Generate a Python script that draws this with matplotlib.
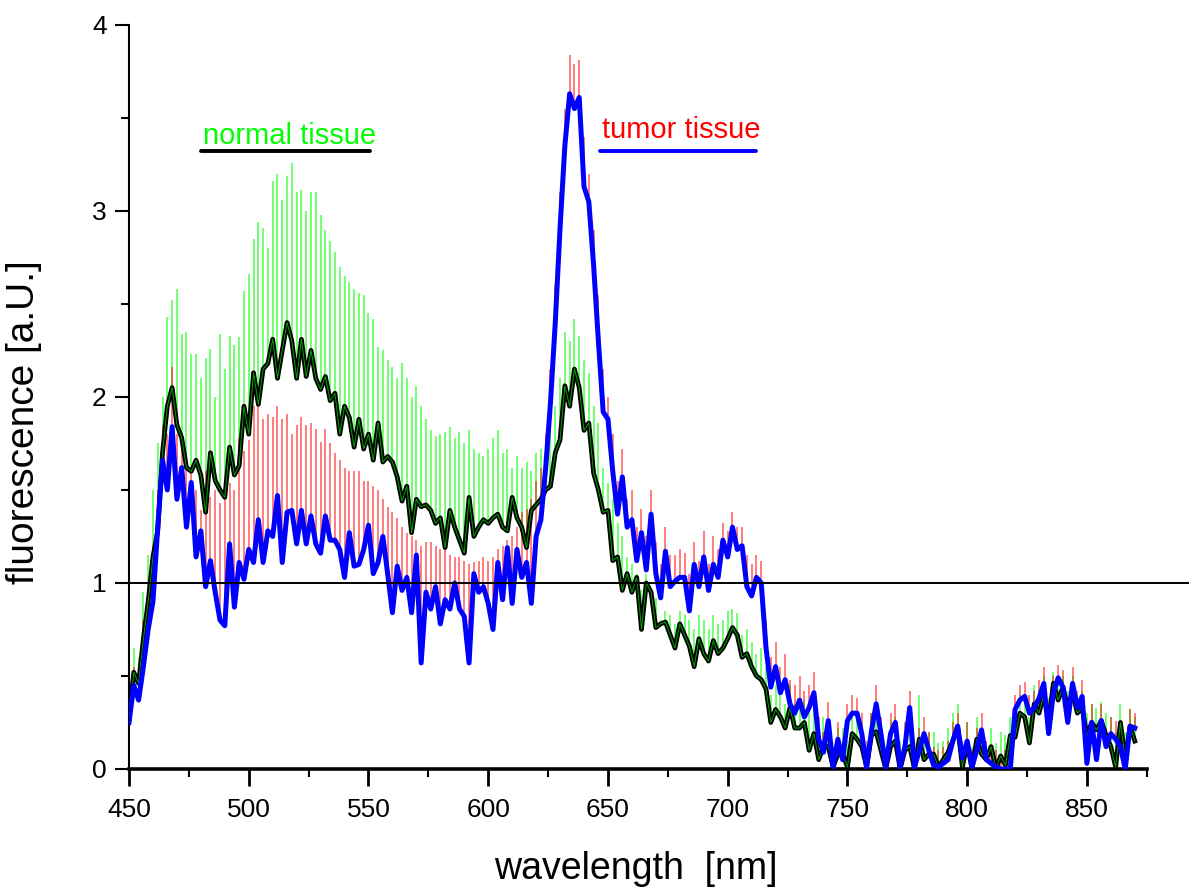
import numpy as np
import matplotlib
matplotlib.use("Agg")
import matplotlib.pyplot as plt
from matplotlib.ticker import MultipleLocator

plt.rcParams['font.family'] = ['Liberation Sans', 'DejaVu Sans']

# wavelength grid, 2 nm steps from 450 to 870 nm
wl = np.arange(450, 871, 2)

# normal tissue, smoothed (black)
normal_smooth = [
    0.27, 0.52, 0.46, 0.70, 0.90, 1.14, 1.28, 1.70, 1.95, 2.05,  # 450-468
    1.85, 1.78, 1.62, 1.60, 1.66, 1.58, 1.38, 1.70, 1.55, 1.50,  # 470-488
    1.46, 1.73, 1.58, 1.63, 1.95, 1.80, 2.13, 1.96, 2.15, 2.18,  # 490-508
    2.31, 2.10, 2.25, 2.40, 2.30, 2.10, 2.31, 2.11, 2.25, 2.10,  # 510-528
    2.04, 2.11, 1.98, 2.02, 1.80, 1.95, 1.89, 1.73, 1.88, 1.72,  # 530-548
    1.80, 1.66, 1.86, 1.65, 1.68, 1.65, 1.57, 1.44, 1.52, 1.27,  # 550-568
    1.45, 1.41, 1.42, 1.39, 1.32, 1.35, 1.19, 1.39, 1.30, 1.23,  # 570-588
    1.16, 1.46, 1.25, 1.30, 1.34, 1.32, 1.35, 1.37, 1.30, 1.28,  # 590-608
    1.46, 1.35, 1.30, 1.19, 1.39, 1.42, 1.45, 1.50, 1.52, 1.70,  # 610-628
    1.77, 2.06, 1.95, 2.15, 2.05, 1.82, 1.86, 1.59, 1.50, 1.38,  # 630-648
    1.39, 1.12, 1.14, 0.96, 1.05, 0.95, 1.03, 0.75, 1.00, 0.95,  # 650-668
    0.76, 0.78, 0.79, 0.72, 0.65, 0.78, 0.72, 0.66, 0.55, 0.70,  # 670-688
    0.62, 0.58, 0.69, 0.62, 0.65, 0.70, 0.76, 0.72, 0.60, 0.62,  # 690-708
    0.55, 0.50, 0.48, 0.43, 0.25, 0.32, 0.28, 0.22, 0.33, 0.22,  # 710-728
    0.22, 0.25, 0.10, 0.19, 0.05, 0.12, 0.12, 0.01, 0.08, 0.08,  # 730-748
    0.01, 0.19, 0.16, 0.12, 0.01, 0.18, 0.20, 0.10, 0.00, 0.12,  # 750-768
    0.15, 0.00, 0.10, 0.12, 0.00, 0.16, 0.05, 0.08, 0.08, 0.01,  # 770-788
    0.05, 0.09, 0.15, 0.23, 0.01, 0.14, 0.00, 0.16, 0.08, 0.05,  # 790-808
    0.12, 0.00, 0.07, 0.02, 0.18, 0.17, 0.30, 0.28, 0.14, 0.35,  # 810-828
    0.30, 0.40, 0.26, 0.46, 0.37, 0.44, 0.33, 0.41, 0.30, 0.33,  # 830-848
    0.18, 0.25, 0.21, 0.26, 0.18, 0.12, 0.01, 0.25, 0.05, 0.23,  # 850-868
    0.15,                                                        # 870
]

# normal tissue, raw spike tops (green)
normal_raw = [
    0.35, 0.65, 0.60, 0.95, 1.15, 1.50, 1.75, 2.00, 2.43, 2.52,
    2.58, 2.34, 2.35, 2.23, 2.23, 2.10, 2.21, 2.26, 2.00, 2.34,
    2.15, 2.33, 2.28, 2.32, 2.57, 2.66, 2.85, 2.94, 2.91, 2.80,
    3.16, 3.20, 3.06, 3.19, 3.26, 3.10, 3.11, 3.00, 3.10, 3.10,
    2.98, 2.90, 2.84, 2.78, 2.70, 2.65, 2.62, 2.58, 2.56, 2.55,
    2.45, 2.42, 2.27, 2.25, 2.20, 2.16, 2.10, 2.18, 2.10, 2.00,
    2.06, 1.95, 1.88, 1.82, 1.79, 1.80, 1.81, 1.84, 1.78, 1.81,
    1.75, 1.82, 1.72, 1.70, 1.68, 1.72, 1.78, 1.82, 1.70, 1.72,
    1.62, 1.68, 1.62, 1.65, 1.60, 1.70, 1.72, 1.78, 1.85, 1.95,
    2.10, 2.35, 2.30, 2.42, 2.33, 2.20, 2.13, 1.95, 1.86, 1.62,
    1.54, 1.45, 1.32, 1.25, 1.14, 1.10, 1.05, 0.96, 1.05, 0.94,
    0.92, 0.80, 0.85, 0.83, 0.78, 0.85, 0.83, 0.80, 0.75, 0.83,
    0.80, 0.75, 0.83, 0.78, 0.80, 0.85, 0.86, 0.84, 0.72, 0.75,
    0.68, 0.62, 0.65, 0.55, 0.40, 0.45, 0.42, 0.35, 0.45, 0.35,
    0.33, 0.37, 0.30, 0.32, 0.20, 0.28, 0.25, 0.12, 0.22, 0.22,
    0.15, 0.30, 0.28, 0.25, 0.12, 0.30, 0.32, 0.22, 0.12, 0.25,
    0.28, 0.15, 0.20, 0.25, 0.10, 0.40, 0.18, 0.20, 0.20, 0.14,
    0.15, 0.22, 0.30, 0.35, 0.15, 0.25, 0.12, 0.28, 0.20, 0.15,
    0.22, 0.14, 0.20, 0.18, 0.28, 0.30, 0.40, 0.38, 0.28, 0.45,
    0.40, 0.50, 0.38, 0.52, 0.48, 0.50, 0.42, 0.50, 0.40, 0.42,
    0.30, 0.35, 0.33, 0.36, 0.30, 0.28, 0.20, 0.35, 0.20, 0.32,
    0.28,
]

# tumor tissue, smoothed (blue)
tumor_smooth = [
    0.25, 0.45, 0.37, 0.55, 0.75, 0.90, 1.30, 1.66, 1.50, 1.84,
    1.45, 1.62, 1.30, 1.54, 1.14, 1.28, 0.98, 1.12, 0.95, 0.80,
    0.77, 1.21, 0.87, 1.11, 1.02, 1.18, 1.11, 1.34, 1.11, 1.28,
    1.25, 1.47, 1.11, 1.38, 1.39, 1.21, 1.39, 1.21, 1.36, 1.21,
    1.16, 1.36, 1.23, 1.23, 1.18, 1.03, 1.27, 1.09, 1.10, 1.18,
    1.31, 1.05, 1.11, 1.25, 1.05, 0.84, 1.09, 0.96, 1.03, 0.84,
    1.15, 0.57, 0.95, 0.86, 0.98, 0.78, 0.91, 0.86, 1.00, 0.86,
    0.82, 0.57, 1.05, 0.95, 0.98, 0.89, 0.75, 1.11, 0.91, 1.19,
    0.89, 1.18, 1.03, 1.11, 0.89, 1.25, 1.34, 1.62, 1.97, 2.40,
    2.91, 3.35, 3.63, 3.55, 3.61, 3.13, 3.05, 2.71, 2.30, 1.92,
    1.88, 1.60, 1.37, 1.57, 1.30, 1.34, 1.12, 1.27, 1.07, 1.37,
    1.05, 0.92, 1.17, 0.98, 1.01, 1.03, 1.03, 0.85, 1.10, 0.98,
    1.14, 0.96, 1.10, 1.03, 1.23, 1.14, 1.30, 1.18, 1.20, 0.98,
    0.93, 1.03, 1.00, 0.65, 0.44, 0.55, 0.41, 0.48, 0.35, 0.30,
    0.37, 0.28, 0.33, 0.41, 0.16, 0.09, 0.26, 0.01, 0.16, 0.05,
    0.26, 0.30, 0.30, 0.19, 0.01, 0.20, 0.35, 0.19, 0.01, 0.19,
    0.25, 0.01, 0.12, 0.33, 0.01, 0.10, 0.19, 0.10, 0.02, 0.01,
    0.03, 0.05, 0.15, 0.23, 0.06, 0.15, 0.01, 0.10, 0.21, 0.05,
    0.03, 0.01, 0.00, 0.00, 0.00, 0.32, 0.37, 0.39, 0.30, 0.33,
    0.38, 0.46, 0.19, 0.41, 0.49, 0.44, 0.25, 0.46, 0.33, 0.39,
    0.03, 0.25, 0.05, 0.26, 0.12, 0.19, 0.16, 0.12, 0.00, 0.23,
    0.22,
]

# tumor tissue, raw spike tops (red)
tumor_raw = [
    0.32, 0.55, 0.45, 0.80, 0.90, 1.15, 1.50, 1.85, 1.80, 2.16,
    1.80, 1.78, 1.68, 1.62, 1.50, 1.39, 1.60, 1.46, 1.50, 1.43,
    1.48, 1.54, 1.50, 1.78, 1.71, 1.77, 1.95, 1.97, 1.88, 1.91,
    1.89, 1.95, 1.88, 1.91, 1.80, 1.85, 1.89, 1.85, 1.86, 1.83,
    1.76, 1.83, 1.75, 1.70, 1.66, 1.62, 1.60, 1.60, 1.60, 1.55,
    1.55, 1.52, 1.50, 1.45, 1.41, 1.38, 1.35, 1.30, 1.27, 1.25,
    1.23, 1.20, 1.22, 1.22, 1.20, 1.18, 1.18, 1.15, 1.14, 1.14,
    1.12, 1.10, 1.11, 1.12, 1.14, 1.12, 1.14, 1.18, 1.20, 1.23,
    1.25, 1.30, 1.38, 1.40, 1.45, 1.55, 1.62, 1.80, 2.15, 2.60,
    3.10, 3.55, 3.84, 3.79, 3.81, 3.40, 3.20, 2.90, 2.55, 2.15,
    2.00, 1.80, 1.55, 1.72, 1.45, 1.50, 1.30, 1.40, 1.25, 1.50,
    1.22, 1.10, 1.30, 1.15, 1.15, 1.18, 1.16, 1.05, 1.22, 1.12,
    1.28, 1.10, 1.25, 1.18, 1.32, 1.28, 1.38, 1.30, 1.30, 1.15,
    1.10, 1.15, 1.12, 0.80, 0.60, 0.68, 0.55, 0.62, 0.48, 0.45,
    0.50, 0.42, 0.45, 0.52, 0.28, 0.20, 0.36, 0.12, 0.25, 0.15,
    0.35, 0.40, 0.38, 0.30, 0.15, 0.30, 0.45, 0.28, 0.10, 0.30,
    0.35, 0.10, 0.25, 0.42, 0.12, 0.22, 0.28, 0.20, 0.12, 0.10,
    0.12, 0.15, 0.25, 0.30, 0.15, 0.25, 0.10, 0.22, 0.30, 0.15,
    0.12, 0.10, 0.08, 0.10, 0.12, 0.40, 0.45, 0.47, 0.40, 0.42,
    0.48, 0.55, 0.30, 0.50, 0.56, 0.53, 0.35, 0.55, 0.42, 0.48,
    0.12, 0.35, 0.15, 0.35, 0.22, 0.28, 0.26, 0.22, 0.10, 0.32,
    0.30,
]

normal_smooth = np.array(normal_smooth)
normal_raw = np.array(normal_raw)
tumor_smooth = np.array(tumor_smooth)
tumor_raw = np.array(tumor_raw)

fig = plt.figure(figsize=(11.89, 8.90), dpi=100)
ax = fig.add_axes([0.1085, 0.136, 0.856, 0.836])

# raw spectra as thin spikes above the smoothed curves
ax.vlines(wl, np.minimum(normal_smooth, normal_raw), normal_raw,
          color='#00ff00', lw=1.3, alpha=0.6, zorder=1)
ax.vlines(wl, np.minimum(tumor_smooth, tumor_raw), tumor_raw,
          color='#ff0000', lw=1.3, alpha=0.55, zorder=2)

ax.plot(wl, normal_smooth, color='black', lw=3.4, zorder=3)
ax.plot(wl, normal_smooth, color='#00a000', lw=0.7, zorder=3)
ax.plot(wl, tumor_smooth, color='#0000ff', lw=3.6, zorder=4)

# reference line at 1, running past the axis
ax.axhline(1, xmin=0, xmax=1.042, color='black', lw=1.4, clip_on=False, zorder=5)

# labels for the two tissue types
ax.text(481, 3.36, 'normal tissue', color='#00ff00', fontsize=21, ha='left', va='baseline')
ax.plot([480, 550.5], [3.32, 3.32], color='black', lw=2.8, solid_capstyle='round')
ax.text(647.5, 3.39, 'tumor tissue', color='#ff0000', fontsize=21, ha='left', va='baseline')
ax.plot([646.5, 712], [3.32, 3.32], color='#0000ff', lw=2.8, solid_capstyle='round')

ax.set_xlim(450, 875)
ax.set_ylim(0, 4)
ax.spines['top'].set_visible(False)
ax.spines['right'].set_visible(False)
ax.spines['bottom'].set_linewidth(2.6)
ax.spines['left'].set_linewidth(1.5)

ax.xaxis.set_major_locator(MultipleLocator(50))
ax.xaxis.set_minor_locator(MultipleLocator(25))
ax.yaxis.set_major_locator(MultipleLocator(1))
ax.yaxis.set_minor_locator(MultipleLocator(0.5))
ax.tick_params(axis='x', which='major', length=12, width=2, labelsize=19, pad=9, direction='out')
ax.tick_params(axis='x', which='minor', length=6, width=1.5, direction='out')
ax.tick_params(axis='y', which='major', length=10, width=1.5, labelsize=19, pad=6, direction='out')
ax.tick_params(axis='y', which='minor', length=6, width=1.5, direction='out')

ax.set_xlabel('wavelength  [nm]', fontsize=27)
ax.set_ylabel('fluorescence [a.U.]', fontsize=28)
ax.xaxis.set_label_coords(0.498, -0.11)
ax.yaxis.set_label_coords(-0.085, 0.466)

fig.savefig('out.png', dpi=100)
